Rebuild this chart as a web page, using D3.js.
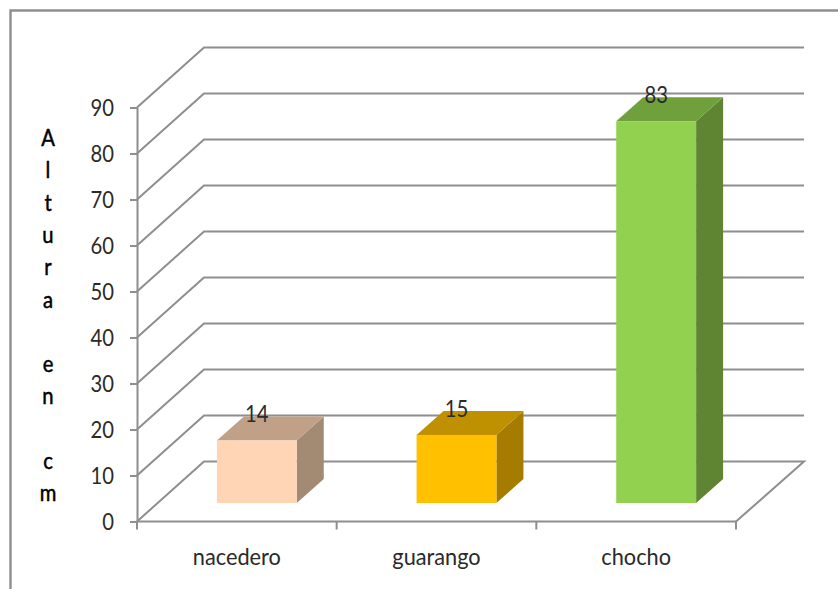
<!DOCTYPE html>
<html><head><meta charset="utf-8">
<style>html,body{margin:0;padding:0;background:#fff}svg{display:block}</style>
<script src="https://cdn.jsdelivr.net/npm/d3@7/dist/d3.min.js"></script></head>
<body><svg id="c" width="838" height="589"></svg>
<script>
const categories = ["nacedero", "guarango", "chocho"];
const values = [13.6, 14.8, 83];
const labels = ["14", "15", "83"];
const yTicks = [0, 10, 20, 30, 40, 50, 60, 70, 80, 90];
const frontColors = ["#FFD5B5", "#FFC000", "#92D050"];
const topColors = ["#C0A086", "#BF9000", "#6FA03C"];
const sideColors = ["#A38A72", "#A67C00", "#5F8533"];
const axisTitle = ["A", "l", "t", "u", "r", "a", "", "e", "n", "", "c", "m"];

const font = "Lato,sans-serif";
const grey = "#8E8E8E";
const sx = 0.88, fs = 23;
const svg = d3.select("#c");
const x = d3.scaleBand().domain(categories).range([137, 736]);
const y = d3.scaleLinear().domain([0, 90]).range([521.5, 107.5]);
const wallDx = 67, wallDy = 60, wallEnd = 804;
const place = (px, py, s = sx) => `translate(${px},${py}) scale(${s},1)`;

// frame
svg.append("path").attr("d", "M10.5,589V10.5H838").attr("fill", "none").attr("stroke", grey).attr("stroke-width", 2.4);

// walls
const wall = svg.append("g").attr("fill", "none").attr("stroke", grey).attr("stroke-width", 2);
wall.selectAll("path").data(yTicks).join("path").attr("d", v => {
  const p = d3.path();
  p.moveTo(137, y(v)); p.lineTo(137 + wallDx, y(v) - wallDy); p.lineTo(wallEnd, y(v) - wallDy);
  if (v === 0) { p.lineTo(736, y(0)); }
  return p.toString();
});

// axes
const yAxis = svg.append("g").attr("transform", "translate(137,0)")
  .call(d3.axisLeft(y).tickValues(yTicks).tickSize(7).tickSizeOuter(0).tickPadding(3).tickFormat(d3.format("d")));
yAxis.selectAll("path,line").attr("stroke", grey).attr("stroke-width", 2);
yAxis.selectAll("text").attr("fill", "#2a2a2a").attr("font-family", font).attr("font-size", fs)
  .attr("x", 0).attr("dy", "0.34em").attr("text-anchor", "end").attr("transform", place(-23, 0));

const xAxis = svg.append("g").attr("transform", `translate(0,${y(0)})`);
xAxis.append("line").attr("x1", 137).attr("x2", 736).attr("stroke", grey).attr("stroke-width", 2);
xAxis.selectAll("line.t").data([...categories.map(c => x(c)), x.range()[1]]).join("line").attr("class", "t")
  .attr("x1", d => d).attr("x2", d => d).attr("y1", 0).attr("y2", 8).attr("stroke", grey).attr("stroke-width", 2);
xAxis.selectAll("text").data(categories).join("text")
  .attr("transform", d => place(x(d) + x.bandwidth() / 2, 43, 0.945)).attr("text-anchor", "middle")
  .attr("font-family", font).attr("font-size", fs).attr("fill", "#2a2a2a").text(d => d);

// bars
const barW = x.bandwidth() * 0.4, offX = 20, baseLift = 18.5, dDx = 27, dDy = 24;
const pts = a => a.map(p => p.join(",")).join(" ");
const bars = svg.append("g").selectAll("g").data(categories).join("g");
bars.each(function (c, i) {
  const g = d3.select(this);
  const l = x(c) + x.bandwidth() / 2 - barW / 2 + offX, r = l + barW;
  const b = y(0) - baseLift, t = b - (y(0) - y(values[i]));
  g.append("polygon").attr("points", pts([[r, t], [r + dDx, t - dDy], [r + dDx, b - dDy], [r, b]])).attr("fill", sideColors[i]);
  g.append("polygon").attr("points", pts([[l, t], [l + dDx, t - dDy], [r + dDx, t - dDy], [r, t]])).attr("fill", topColors[i]);
  g.append("rect").attr("x", l).attr("y", t).attr("width", barW).attr("height", b - t).attr("fill", frontColors[i]);
  g.append("text").attr("transform", place((l + r) / 2, t - 18)).attr("text-anchor", "middle")
    .attr("font-family", font).attr("font-size", fs).attr("fill", "#2a2a2a").text(labels[i]);
});

// vertical axis title
svg.append("g").selectAll("text").data(axisTitle).join("text")
  .attr("transform", (d, i) => place(48, 146 + i * 32.3)).attr("text-anchor", "middle")
  .attr("font-family", font).attr("font-size", 23).attr("stroke", "#000").attr("stroke-width", 0.5).attr("fill", "#000").text(d => d);
</script></body></html>
